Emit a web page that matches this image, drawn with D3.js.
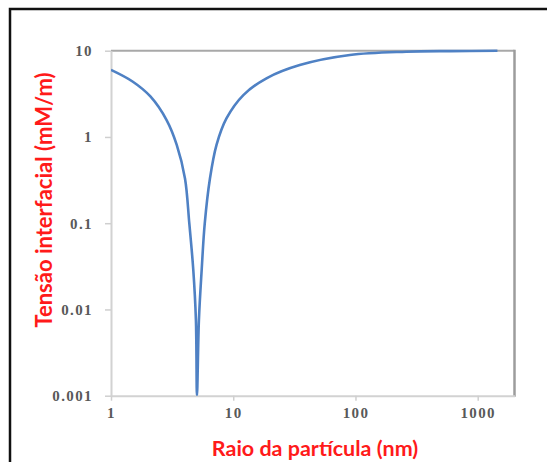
<!DOCTYPE html>
<html>
<head>
<meta charset="utf-8">
<script src="https://cdn.jsdelivr.net/npm/d3@7"></script>
<style>
  html, body { margin: 0; padding: 0; background: #fff; overflow: hidden; }
</style>
</head>
<body>
<div id="chart"></div>
<script>
// values
const radius  = [1, 1.5, 2.1, 2.85, 3.45, 4.03, 4.37, 4.71, 4.95, 5.05, 5.24, 5.52, 5.85, 6.45, 7.3, 8.8, 12.1, 18.7, 35, 90, 260, 600, 1450]
const tension = [6.0, 4.4, 2.95, 1.57, 0.81, 0.33, 0.1, 0.029, 0.0076, 0.001, 0.0076, 0.029, 0.1, 0.33, 0.81, 1.64, 3.06, 4.79, 6.82, 8.92, 9.73, 9.9, 9.97]

const xTicks = [1, 10, 100, 1000]
const xTickLabels = ["1", "10", "100", "1000"]
const yTicks = [0.001, 0.01, 0.1, 1, 10]
const yTickLabels = ["0.001", "0.01", "0.1", "1", "10"]

const xTitle = "Raio da partícula (nm)"
const yTitle = "Tensão interfacial (mM/m)"

const width = 547
const height = 462
const plot = { left: 111, right: 514.5, top: 50.7, bottom: 395.7 }

const svg = d3.select("#chart")
    .append("svg")
    .attr("width", width)
    .attr("height", height)

// outer frame of the figure
svg.append("rect")
    .attr("x", 10).attr("y", 9)
    .attr("width", 580).attr("height", 500)
    .attr("fill", "none")
    .attr("stroke", "#111")
    .attr("stroke-width", 2.5)

const x = d3.scaleLog().domain([1, 2000]).range([plot.left, plot.right])
const y = d3.scaleLog().domain([0.001, 10]).range([plot.bottom, plot.top])

// top and right edges of the plot box
svg.append("line")
    .attr("x1", plot.left).attr("x2", plot.right)
    .attr("y1", plot.top).attr("y2", plot.top)
    .attr("stroke", "#a8a8a8").attr("stroke-width", 2)
svg.append("line")
    .attr("x1", plot.right).attr("x2", plot.right)
    .attr("y1", plot.top - 1).attr("y2", plot.bottom + 1)
    .attr("stroke", "#9c9c9c").attr("stroke-width", 2.5)

const xAxis = svg.append("g")
    .attr("transform", `translate(0,${plot.bottom})`)
    .call(d3.axisBottom(x).tickValues(xTicks)
        .tickFormat((d, i) => xTickLabels[i])
        .tickSize(5).tickSizeOuter(0).tickPadding(7))

const yAxis = svg.append("g")
    .attr("transform", `translate(${plot.left},0)`)
    .call(d3.axisLeft(y).tickValues(yTicks)
        .tickFormat((d, i) => yTickLabels[i])
        .tickSize(6).tickSizeOuter(0).tickPadding(12))

for (const g of [xAxis, yAxis]) {
    g.select(".domain").attr("stroke", "#d2d2d2").attr("stroke-width", 2)
    g.selectAll(".tick line").attr("stroke", "#cfcfcf").attr("stroke-width", 1.5)
    g.selectAll(".tick text")
        .attr("fill", "#595959")
        .attr("font-family", "'Liberation Serif', serif")
        .attr("font-weight", "bold")
        .attr("font-size", 15)
        .attr("letter-spacing", 1.4)
}

svg.append("clipPath").attr("id", "plot-clip")
    .append("rect")
    .attr("x", plot.left).attr("y", plot.top - 2)
    .attr("width", plot.right - plot.left).attr("height", plot.bottom - plot.top + 2)

const line = d3.line()
    .x(i => x(radius[i]))
    .y(i => y(tension[i]))
    .curve(d3.curveCatmullRom.alpha(0.5))

svg.append("path")
    .datum(d3.range(radius.length))
    .attr("clip-path", "url(#plot-clip)")
    .attr("fill", "none")
    .attr("stroke", "#4f81c4")
    .attr("stroke-width", 2.6)
    .attr("d", line)

// axis titles
svg.append("text")
    .attr("x", 315).attr("y", 456)
    .attr("text-anchor", "middle")
    .attr("fill", "#ff1a1a")
    .attr("font-family", "Lato, sans-serif")
    .attr("font-weight", "bold")
    .attr("font-size", 21.5)
    .text(xTitle)

svg.append("text")
    .attr("transform", "translate(52,200) rotate(-90)")
    .attr("text-anchor", "middle")
    .attr("fill", "#ff1a1a")
    .attr("font-family", "Lato, sans-serif")
    .attr("font-weight", "bold")
    .attr("font-size", 22)
    .text(yTitle)
</script>
</body>
</html>
